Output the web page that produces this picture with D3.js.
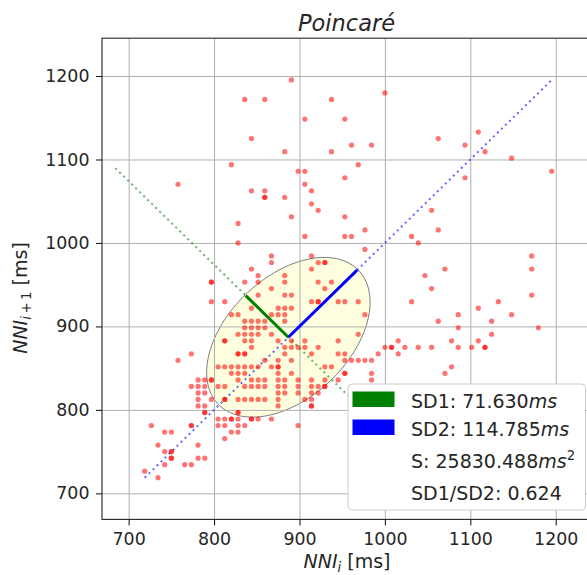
<!DOCTYPE html>
<html>
<head>
<meta charset="utf-8">
<script src="https://cdn.jsdelivr.net/npm/d3@7"></script>
<style>
  body { margin: 0; background: #fff; }
  svg { display: block; }
  text { font-family: "DejaVu Sans", sans-serif; }
</style>
</head>
<body>
<svg id="chart" width="587" height="575"></svg>
<script>
// Successive NN intervals (ms): x = NNI_i, y = NNI_{i+1}
const nniI = [
  890.6, 835.9, 859.4, 937.5, 906.3, 953.1, 843.8, 882.8, 937.5, 960.9,
  820.3, 757.8, 898.4, 906.3, 906.3, 953.1, 843.8, 859.4, 859.4, 859.4,
  882.8, 914.1, 914.1, 921.9, 890.6, 953.1, 828.1, 828.1, 906.3, 953.1,
  960.9, 867.2, 867.2, 914.1, 921.9, 929.7, 929.7, 914.1, 843.8, 851.6,
  882.8, 1000.0, 984.4, 968.8, 976.6, 976.6, 1062.5, 1109.4, 1093.8, 1117.2,
  1148.4, 1195.3, 1093.8, 1054.7, 1062.5, 1031.3, 1039.1, 1070.3, 1046.9, 1171.9,
  1171.9, 1171.9, 1054.7, 1031.3, 1132.8, 1109.4, 1085.9, 1148.4, 1062.5, 1125.0,
  1085.9, 1179.7, 1125.0, 1015.6, 1078.1, 1109.4, 1000.0, 1007.8, 1007.8, 1023.4,
  1039.1, 1054.7, 1085.9, 1101.6, 1117.2, 1117.2, 1015.6, 992.2, 1078.1, 1070.3,
  945.3, 953.1, 968.8, 937.5, 976.6, 968.8, 945.3, 945.3, 953.1, 937.5,
  953.1, 953.1, 984.4, 984.4, 953.1, 960.9, 968.8, 976.6, 984.4, 945.3,
  929.7, 796.9, 796.9, 835.9, 851.6, 867.2, 796.9, 812.5, 851.6, 820.3,
  828.1, 843.8, 835.9, 843.8, 851.6, 835.9, 843.8, 851.6, 859.4, 835.9,
  843.8, 851.6, 812.5, 812.5, 835.9, 843.8, 843.8, 828.1, 828.1, 835.9,
  835.9, 882.8, 921.9, 929.7, 882.8, 890.6, 914.1, 921.9, 921.9, 875.0,
  882.8, 890.6, 875.0, 882.8, 882.8, 875.0, 890.6, 906.3, 890.6, 898.4,
  921.9, 867.2, 859.4, 867.2, 828.1, 773.4, 757.8, 804.7, 812.5, 820.3,
  828.1, 835.9, 843.8, 851.6, 867.2, 875.0, 820.3, 828.1, 835.9, 781.3,
  789.1, 796.9, 796.9, 828.1, 843.8, 851.6, 859.4, 773.4, 781.3, 789.1,
  804.7, 812.5, 835.9, 843.8, 851.6, 859.4, 781.3, 789.1, 781.3, 796.9,
  812.5, 812.5, 828.1, 835.9, 843.8, 851.6, 859.4, 781.3, 789.1, 789.1,
  789.1, 828.1, 828.1, 804.7, 812.5, 820.3, 820.3, 828.1, 843.8, 843.8,
  851.6, 867.2, 726.6, 773.4, 773.4, 804.7, 812.5, 828.1, 835.9, 742.2,
  750.0, 820.3, 828.1, 812.5, 734.4, 781.3, 742.2, 750.0, 750.0, 750.0,
  750.0, 781.3, 789.1, 742.2, 765.6, 773.4, 718.8, 734.4, 882.8, 875.0,
  875.0, 890.6, 875.0, 882.8, 898.4, 914.1, 929.7, 875.0, 882.8, 898.4,
  914.1, 921.9, 929.7, 929.7, 875.0, 882.8, 898.4, 914.1, 921.9, 875.0,
  906.3, 914.1, 914.1, 914.1, 898.4, 875.0, 859.4, 875.0, 882.8, 906.3,
  914.1, 890.6
];
const nniI1 = [
  1195.3, 1171.9, 1171.9, 1171.9, 1148.4, 1148.4, 1125.0, 1109.4, 1109.4, 1117.2,
  1093.8, 1070.3, 1085.9, 1085.9, 1070.3, 1078.1, 1062.5, 1062.5, 1054.7, 1054.7,
  1054.7, 1062.5, 1046.9, 1039.1, 1031.3, 1031.3, 1023.4, 1000.0, 1007.8, 1007.8,
  1007.8, 984.4, 976.6, 984.4, 976.6, 976.6, 976.6, 968.8, 968.8, 960.9,
  960.9, 1179.7, 1117.2, 1093.8, 1015.6, 992.2, 1125.0, 1132.8, 1117.2, 1109.4,
  1101.6, 1085.9, 1078.1, 1039.1, 1015.6, 1007.8, 1000.0, 968.8, 960.9, 984.4,
  968.8, 937.5, 945.3, 929.7, 929.7, 921.9, 914.1, 914.1, 906.3, 906.3,
  898.4, 898.4, 890.6, 882.8, 882.8, 882.8, 875.0, 875.0, 875.0, 875.0,
  875.0, 875.0, 875.0, 875.0, 875.0, 875.0, 867.2, 867.2, 851.6, 843.8,
  929.7, 929.7, 929.7, 953.1, 914.1, 890.6, 882.8, 867.2, 867.2, 851.6,
  843.8, 843.8, 843.8, 835.9, 859.4, 859.4, 859.4, 859.4, 859.4, 835.9,
  851.6, 953.1, 953.1, 953.1, 953.1, 945.3, 929.7, 929.7, 937.5, 914.1,
  914.1, 921.9, 906.3, 906.3, 906.3, 898.4, 898.4, 898.4, 898.4, 890.6,
  890.6, 890.6, 882.8, 882.8, 882.8, 882.8, 875.0, 867.2, 867.2, 867.2,
  867.2, 953.1, 953.1, 945.3, 937.5, 937.5, 929.7, 929.7, 929.7, 921.9,
  921.9, 921.9, 914.1, 914.1, 906.3, 882.8, 882.8, 882.8, 875.0, 875.0,
  875.0, 914.1, 906.3, 890.6, 890.6, 867.2, 859.4, 851.6, 851.6, 851.6,
  851.6, 851.6, 851.6, 851.6, 851.6, 851.6, 843.8, 843.8, 843.8, 835.9,
  835.9, 835.9, 835.9, 835.9, 835.9, 835.9, 835.9, 828.1, 828.1, 828.1,
  828.1, 828.1, 828.1, 828.1, 828.1, 828.1, 820.3, 820.3, 812.5, 812.5,
  812.5, 812.5, 812.5, 812.5, 812.5, 812.5, 812.5, 804.7, 804.7, 796.9,
  796.9, 796.9, 796.9, 789.1, 789.1, 789.1, 789.1, 789.1, 789.1, 789.1,
  789.1, 789.1, 781.3, 781.3, 781.3, 781.3, 781.3, 781.3, 781.3, 773.4,
  773.4, 773.4, 773.4, 765.6, 757.8, 757.8, 750.0, 750.0, 750.0, 742.2,
  742.2, 742.2, 742.2, 734.4, 734.4, 734.4, 726.6, 718.8, 867.2, 851.6,
  843.8, 843.8, 835.9, 835.9, 835.9, 835.9, 835.9, 828.1, 828.1, 828.1,
  828.1, 828.1, 828.1, 828.1, 820.3, 820.3, 820.3, 820.3, 820.3, 812.5,
  812.5, 812.5, 804.7, 804.7, 781.3, 804.7, 859.4, 859.4, 875.0, 875.0,
  867.2, 859.4
];

// Poincaré descriptors (ms)
const nnMean = 887.0;
const sd1 = 71.630;
const sd2 = 114.785;
const areaS = 25830.488;
const sdRatio = 0.624;

const xTickValues = [700, 800, 900, 1000, 1100, 1200];
const yTickValues = [700, 800, 900, 1000, 1100, 1200];

const svg = d3.select("#chart");
const box = { left: 102, top: 38.2, right: 594.4, bottom: 519.4 };
const tickFont = 17.4;
const labelFont = 19;

const allNN = nniI.concat(nniI1);
const nnMin = d3.min(allNN), nnMax = d3.max(allNN);
const x = d3.scaleLinear().domain([nnMin - 50, nnMax + 50]).range([box.left, box.right]);
const y = d3.scaleLinear().domain([nnMin - 50, nnMax + 50]).range([box.bottom, box.top]);

svg.append("defs").append("clipPath").attr("id", "plotClip")
  .append("rect")
  .attr("x", box.left).attr("y", box.top)
  .attr("width", box.right - box.left).attr("height", box.bottom - box.top);

const plot = svg.append("g").attr("clip-path", "url(#plotClip)");

// Ellipse: semi-axis SD2 along the identity line, SD1 across it
const c45 = Math.cos(Math.PI / 4);
const ellipsePts = d3.range(0, 361, 2).map(a => {
  const t = a * Math.PI / 180;
  const u = sd2 * Math.cos(t), v = sd1 * Math.sin(t);
  return [nnMean + (u - v) * c45, nnMean + (u + v) * c45];
});
const line = d3.line().x(d => x(d[0])).y(d => y(d[1]));
plot.append("path")
  .attr("d", line(ellipsePts) + "Z")
  .attr("fill", "#ffffe0")
  .attr("stroke", "#7a7a7a")
  .attr("stroke-width", 1);

// Grid
const gridX = d3.axisBottom(x).tickValues(xTickValues).tickSize(-(box.bottom - box.top)).tickFormat("");
const gridY = d3.axisLeft(y).tickValues(yTickValues).tickSize(-(box.right - box.left)).tickFormat("");
const gx = plot.append("g").attr("transform", `translate(0,${box.bottom})`).call(gridX);
const gy = plot.append("g").attr("transform", `translate(${box.left},0)`).call(gridY);
[gx, gy].forEach(g => {
  g.select(".domain").remove();
  g.selectAll("line").attr("stroke", "#b0b0b0").attr("stroke-width", 1);
});

// Identity line and its perpendicular through the mean
plot.append("line")
  .attr("x1", x(nnMin)).attr("y1", y(nnMin))
  .attr("x2", x(nnMax)).attr("y2", y(nnMax))
  .attr("stroke", "#0000ff").attr("stroke-opacity", 0.6)
  .attr("stroke-width", 2).attr("stroke-dasharray", "2,3.6");
const perp = sd1 * c45 * 4;
plot.append("line")
  .attr("x1", x(nnMean - perp)).attr("y1", y(nnMean + perp))
  .attr("x2", x(nnMean + perp)).attr("y2", y(nnMean - perp))
  .attr("stroke", "#008000").attr("stroke-opacity", 0.6)
  .attr("stroke-width", 2).attr("stroke-dasharray", "2,3.6");

// Scatter of successive intervals
plot.append("g").selectAll("circle")
  .data(d3.range(nniI.length))
  .join("circle")
  .attr("cx", i => x(nniI[i]))
  .attr("cy", i => y(nniI1[i]))
  .attr("r", 2.6)
  .attr("fill", "#ff0000")
  .attr("fill-opacity", 0.55);

// SD1 / SD2 vectors
plot.append("line")
  .attr("x1", x(nnMean)).attr("y1", y(nnMean))
  .attr("x2", x(nnMean - (sd1 - 1) * c45)).attr("y2", y(nnMean + (sd1 - 1) * c45))
  .attr("stroke", "#008000").attr("stroke-width", 3);
plot.append("line")
  .attr("x1", x(nnMean)).attr("y1", y(nnMean))
  .attr("x2", x(nnMean + (sd2 - 1) * c45)).attr("y2", y(nnMean + (sd2 - 1) * c45))
  .attr("stroke", "#0000ff").attr("stroke-width", 3);

// Axes with ticks and labels
const fmt = d3.format("d");
const axX = d3.axisBottom(x).tickValues(xTickValues).tickFormat(fmt).tickSize(6).tickPadding(7);
const axY = d3.axisLeft(y).tickValues(yTickValues).tickFormat(fmt).tickSize(6).tickPadding(6.5);
const ax = svg.append("g").attr("transform", `translate(0,${box.bottom})`).call(axX);
const ay = svg.append("g").attr("transform", `translate(${box.left},0)`).call(axY);
[ax, ay].forEach(g => {
  g.select(".domain").remove();
  g.selectAll(".tick line").attr("stroke", "#222").attr("stroke-width", 1.1);
  g.selectAll(".tick text")
    .attr("fill", "#262626")
    .style("font-family", '"DejaVu Sans", sans-serif')
    .style("font-size", tickFont + "px");
});

// Frame
svg.append("rect")
  .attr("x", box.left).attr("y", box.top)
  .attr("width", box.right - box.left).attr("height", box.bottom - box.top)
  .attr("fill", "none").attr("stroke", "#222").attr("stroke-width", 1.1);

// Title
svg.append("text")
  .attr("x", 346.5).attr("y", 31)
  .attr("text-anchor", "middle")
  .attr("font-style", "italic")
  .attr("font-size", 22.5)
  .attr("fill", "#262626")
  .text("Poincaré");

// Axis titles
const xl = svg.append("text")
  .attr("x", 347).attr("y", 568)
  .attr("text-anchor", "middle")
  .attr("font-size", labelFont)
  .attr("fill", "#262626");
xl.append("tspan").attr("font-style", "italic").text("NNI");
xl.append("tspan").attr("font-style", "italic").attr("font-size", labelFont * 0.7).attr("dy", 4).text("i");
xl.append("tspan").attr("dy", -4).text(" [ms]");

const yl = svg.append("text")
  .attr("transform", "translate(27,298) rotate(-90)")
  .attr("text-anchor", "middle")
  .attr("font-size", labelFont)
  .attr("fill", "#262626");
yl.append("tspan").attr("font-style", "italic").text("NNI");
yl.append("tspan").attr("font-style", "italic").attr("font-size", labelFont * 0.7).attr("dy", 4).text("i");
yl.append("tspan").attr("font-size", labelFont * 0.7).attr("dx", 2.5).text("+");
yl.append("tspan").attr("font-size", labelFont * 0.7).attr("dx", 2.5).text("1");
yl.append("tspan").attr("dy", -4).text(" [ms]");

// Legend
const legend = svg.append("g");
legend.append("rect")
  .attr("x", 348).attr("y", 384)
  .attr("width", 237.5).attr("height", 126)
  .attr("rx", 4).attr("ry", 4)
  .attr("fill", "#fff").attr("stroke", "#cccccc").attr("stroke-width", 1);

const legendRows = [
  { color: "#008000", main: `SD1: ${sd1.toFixed(3)}`, unit: "ms", sup: "" },
  { color: "#0000ff", main: `SD2: ${sd2.toFixed(3)}`, unit: "ms", sup: "" },
  { color: null, main: `S: ${areaS.toFixed(3)}`, unit: "ms", sup: "2" },
  { color: null, main: `SD1/SD2: ${sdRatio.toFixed(3)}`, unit: "", sup: "" }
];
const rowBase = [408, 436, 467.5, 499.5];
legendRows.forEach((r, i) => {
  if (r.color) {
    legend.append("rect")
      .attr("x", 353).attr("y", rowBase[i] - 16)
      .attr("width", 41).attr("height", 14.5)
      .attr("fill", r.color).attr("stroke", r.color).attr("stroke-width", 1);
  }
  const t = legend.append("text")
    .attr("x", 411).attr("y", rowBase[i])
    .attr("font-size", labelFont)
    .attr("fill", "#262626");
  t.append("tspan").text(r.main);
  if (r.unit) t.append("tspan").attr("font-style", "italic").text(r.unit);
  if (r.sup) t.append("tspan").attr("font-size", labelFont * 0.7).attr("dy", -8).text(r.sup);
});
</script>
</body>
</html>
